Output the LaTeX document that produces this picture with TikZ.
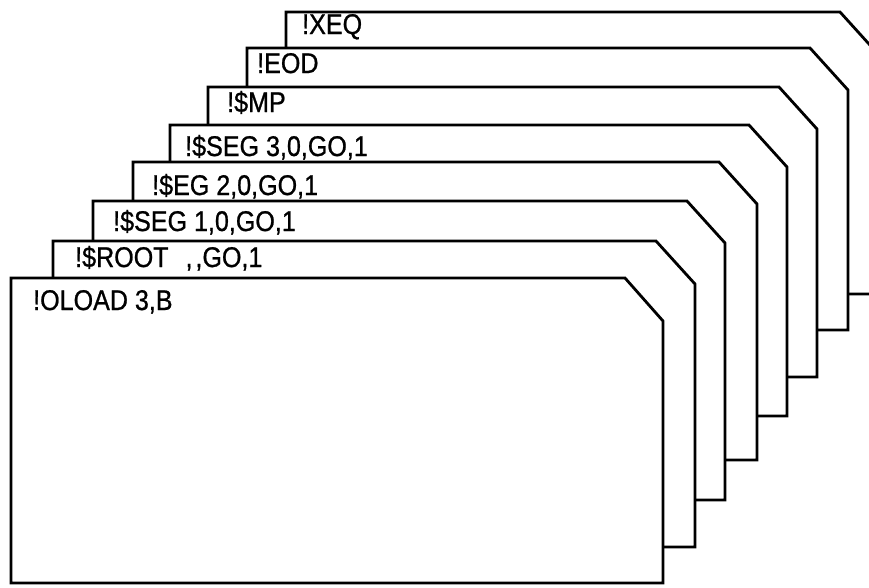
\documentclass[tikz,border=0pt]{standalone}
\usepackage{fontspec}
\setmainfont{Liberation Sans}
\newfontfamily\cardfont[FakeStretch=0.88,FakeBold=0.8]{Liberation Sans}
\usetikzlibrary{positioning}

\begin{document}
\begin{tikzpicture}[
    x=1pt, y=-1pt,
    cardStyle/.style={draw=black, line width=2.8pt, fill=white, line join=miter},
    labelStyle/.style={anchor=base west, inner sep=0pt, font=\cardfont\fontsize{28.5}{32}\selectfont}
]
    \useasboundingbox (0,0) rectangle (869,587);
    \clip (0,0) rectangle (869,587);

    % Back card: XEQ
    \draw[cardStyle] (286,294) -- (286,12) -- (840,12) -- (878,54) -- (878,294) -- cycle;
    \node[labelStyle] (xeq) at (302,34) {!XEQ};

    % EOD
    \draw[cardStyle] (247,330) -- (247,48) -- (810,48) -- (848,90) -- (848,330) -- cycle;
    \node[labelStyle] (eod) at (257,73) {!EOD};

    % MP
    \draw[cardStyle] (208,377) -- (208,87) -- (779,87) -- (817,129) -- (817,377) -- cycle;
    \node[labelStyle] (mp) at (227,112) {!\$MP};

    % SEG 3
    \draw[cardStyle] (170,416) -- (170,125) -- (749,125) -- (787,167) -- (787,416) -- cycle;
    \node[labelStyle] (seg3) at (185,156) {!\$SEG 3,0,GO,1};

    % EG 2
    \draw[cardStyle] (133,460) -- (133,162) -- (719,162) -- (757,204) -- (757,460) -- cycle;
    \node[labelStyle] (eg2) at (152,195) {!\$EG 2,0,GO,1};

    % SEG 1
    \draw[cardStyle] (93,500) -- (93,201) -- (687,201) -- (725,243) -- (725,500) -- cycle;
    \node[labelStyle] (seg1) at (113,231) {!\$SEG 1,0,GO,1};

    % ROOT
    \draw[cardStyle] (53,547) -- (53,241) -- (656,241) -- (695,284) -- (695,547) -- cycle;
    \node[labelStyle] (root) at (75,267) {!\$ROOT\hspace{0.6em},\hspace{0.1em},GO,1};

    % Front card: OLOAD
    \draw[cardStyle] (11,583) -- (11,278) -- (625,278) -- (663,321) -- (663,583) -- cycle;
    \node[labelStyle] (oload) at (33,310) {!OLOAD 3,B};
\end{tikzpicture}
\end{document}
